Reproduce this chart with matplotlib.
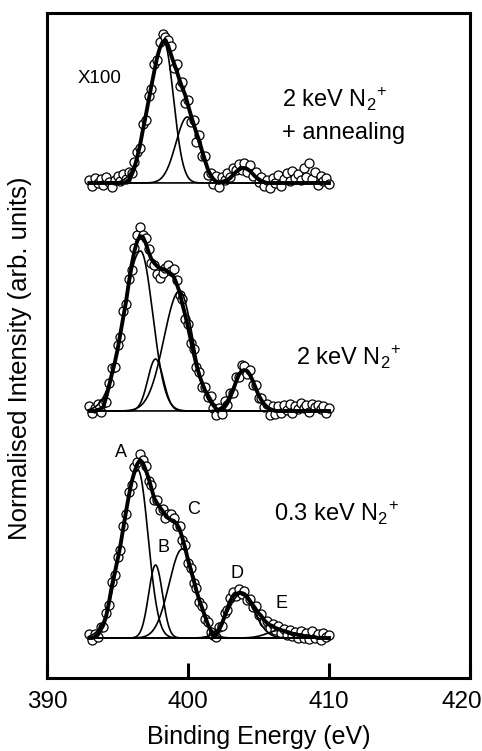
import numpy as np
import matplotlib
matplotlib.use("Agg")
import matplotlib.pyplot as plt
from matplotlib.transforms import ScaledTranslation

plt.rcParams["font.family"] = ["Liberation Sans", "DejaVu Sans"]
plt.rcParams["mathtext.fontset"] = "custom"
plt.rcParams["mathtext.rm"] = "Liberation Sans"

# binding energy grid of the measured points (eV)
energy = np.round(np.arange(393.0, 410.001, 0.2), 2)

# 2 keV N2+ + annealing (x100)
top_data = [3, -3, 5, 0, 4, -2, 6, 1, -4, 3, 7, 2, 9, 4, 11, 10, 21, 31, 35, 59,
            63, 87, 94, 119, 123, 141, 149, 146, 143, 137, 115, 119, 97, 101, 80, 83, 61, 63, 41, 48,
            27, 27, 8, 10, -1, 7, -4, 6, 3, 10, 6, 15, 13, 19, 13, 20, 11, 18, 7, 11,
            1, 6, -3, 3, -5, 5, 0, 8, -3, 4, 10, 2, 12, 5, 9, 3, 15, 6, 20, 4,
            11, -2, 7, 2, 5, -1]
top_fit = [0, 0, 0, 0, 0, 0, 0, 0, 0, 0, 0, 0, 0, 1, 3, 8, 15, 26, 38, 53,
           67, 82, 97, 111, 125, 135, 141, 143, 137, 128, 120, 112, 103, 95, 88, 78, 68, 59, 50, 42,
           32, 23, 14, 8, 4, 1, 0, 1, 2, 3, 5, 8, 11, 13, 15, 15, 14, 12, 9, 6,
           4, 2, 1, 0, 0, 0, 0, 0, 0, 0, 0, 0, 0, 0, 0, 0, 0, 0, 0, 0,
           0, 0, 0, 0, 0, 0]
# components: centre, height, left width, right width
top_peaks = [(398.29, 141, 2.45, 1.6), (399.95, 66, 1.9, 1.9), (403.87, 15, 1.6, 1.6)]

# 2 keV N2+
mid_data = [5, -2, 3, 7, -1, 8, 9, 28, 43, 44, 66, 74, 100, 107, 132, 141, 163, 176, 184, 176,
            173, 162, 148, 146, 137, 133, 138, 143, 146, 140, 142, 131, 116, 112, 92, 87, 68, 62, 44, 39,
            24, 24, 14, 15, 3, -4, 3, -3, 10, 6, 18, 18, 34, 34, 46, 45, 37, 41, 26, 26,
            13, 13, 4, 7, -4, 5, -3, 5, -2, 6, 1, 7, -2, 5, 2, 8, 3, 6, -1, 7,
            4, 6, 2, 5, -2, 3]
mid_fit = [0, 0, 0, 1, 2, 4, 14, 25, 37, 48, 61, 77, 93, 109, 128, 146, 160, 170, 175, 174,
           168, 159, 152, 148, 145, 143, 142, 141, 139, 137, 134, 127, 119, 107, 96, 84, 71, 58, 46, 36,
           28, 21, 16, 11, 6, 2, 1, 2, 4, 8, 14, 21, 29, 36, 40, 41, 40, 36, 30, 23,
           16, 11, 7, 4, 2, 1, 0, 0, 0, 0, 0, 0, 0, 0, 0, 0, 0, 0, 0, 0,
           0, 0, 0, 0, 0, 0]
mid_peaks = [(396.63, 160, 2.8, 2.05), (397.7, 52, 1.3, 1.3), (399.4, 120, 2.6, 2.2),
             (404.0, 41, 1.8, 1.8)]

# 0.3 keV N2+
bot_data = [4, -2, 4, 1, 11, 11, 25, 33, 56, 63, 81, 88, 112, 124, 146, 153, 171, 176, 184, 178,
            172, 157, 153, 138, 138, 128, 129, 120, 124, 124, 120, 112, 112, 98, 93, 75, 70, 55, 50, 36,
            32, 19, 16, 6, 3, 1, 11, 12, 25, 28, 40, 46, 42, 49, 44, 47, 38, 39, 31, 32,
            23, 24, 16, 17, 10, 14, 8, 12, 5, 9, 3, 8, 2, 6, 0, 7, 0, 5, -1, 7,
            0, 4, -2, 5, 1, 3]
bot_fit = [0, 0, 1, 3, 8, 13, 22, 36, 52, 65, 78, 92, 109, 126, 142, 156, 166, 174, 178, 175,
           168, 160, 150, 140, 135, 131, 127, 123, 120, 118, 117, 114, 109, 100, 90, 78, 68, 58, 47, 38,
           30, 22, 14, 8, 1, 3, 8, 14, 22, 30, 37, 42, 44, 45, 45, 44, 41, 37, 33, 29,
           25, 22, 18, 15, 13, 12, 10, 9, 8, 7, 6, 5, 4, 4, 3, 3, 2, 2, 1, 1,
           1, 0, 0, 0, 0, 0]
bot_peaks = [(396.45, 168, 2.7, 1.7), (397.7, 73, 1.15, 1.15), (399.59, 89, 2.2, 2.2),
             (403.76, 44, 2.2, 2.2), (406.6, 8, 2.2, 2.2)]

offsets = [495, 267, 40]
for arr in (top_data, top_fit, mid_data, mid_fit, bot_data, bot_fit):
    assert len(arr) == len(energy)


def split_gauss(x, c, h, wl, wr):
    w = np.where(x < c, wl, wr)
    return h * np.exp(-4 * np.log(2) * ((x - c) / w) ** 2)


fig = plt.figure(figsize=(4.82, 7.51), dpi=100)
ax = fig.add_axes([47 / 482, 1 - 678 / 751, 423 / 482, 665 / 751])
xf = np.linspace(393, 410, 500)
spectra = [(top_data, top_fit, top_peaks), (mid_data, mid_fit, mid_peaks),
           (bot_data, bot_fit, bot_peaks)]
for (data, fit, peaks), off in zip(spectra, offsets):
    ax.plot(energy, off + np.array(data), "o", ms=6.5, mfc="white", mec="black",
            mew=0.9, zorder=2)
    for p in peaks:
        ax.plot(xf, off + split_gauss(xf, *p), color="black", lw=1.2, zorder=3)
    ax.plot(energy, off + np.array(fit), color="black", lw=2.8, zorder=4)

ax.set_xlim(390, 420)
ax.set_ylim(0, 665)
ax.set_xticks([390, 400, 410, 420])
ax.set_yticks([])
ax.tick_params(direction="in", length=11, width=2.2, labelsize=17.5, pad=9)
labels = ax.set_xticklabels(["390", "400", "410", "420"])
labels[-1].set_transform(labels[-1].get_transform()
                         + ScaledTranslation(-0.08, 0, fig.dpi_scale_trans))
for s in ax.spines.values():
    s.set_linewidth(2.2)
ax.set_xlabel("Binding Energy (eV)", fontsize=18)
ax.xaxis.set_label_coords(0.5, -0.07)
ax.set_ylabel("Normalised Intensity (arb. units)", fontsize=18.5, va="center")
ax.yaxis.set_label_coords(-0.064, 0.481)

ion = r"N$_\mathregular{2}{}^\mathregular{+}$"
ax.text(393.69, 600, "X100", fontsize=13.5, ha="center", va="center")
ax.text(406.7, 571, "2 keV " + ion, fontsize=17, va="baseline")
ax.text(406.7, 539, "+ annealing", fontsize=17, va="baseline")
ax.text(407.68, 313, "2 keV " + ion, fontsize=17, va="baseline")
ax.text(406.13, 157, "0.3 keV " + ion, fontsize=17, va="baseline")
for lab, x, y in zip("ABCDE", [395.25, 398.25, 400.38, 403.51, 406.65],
                     [226, 131, 169, 105, 75]):
    ax.text(x, y, lab, fontsize=13, ha="center", va="center")

fig.savefig("out.png", dpi=100)
plt.close(fig)
